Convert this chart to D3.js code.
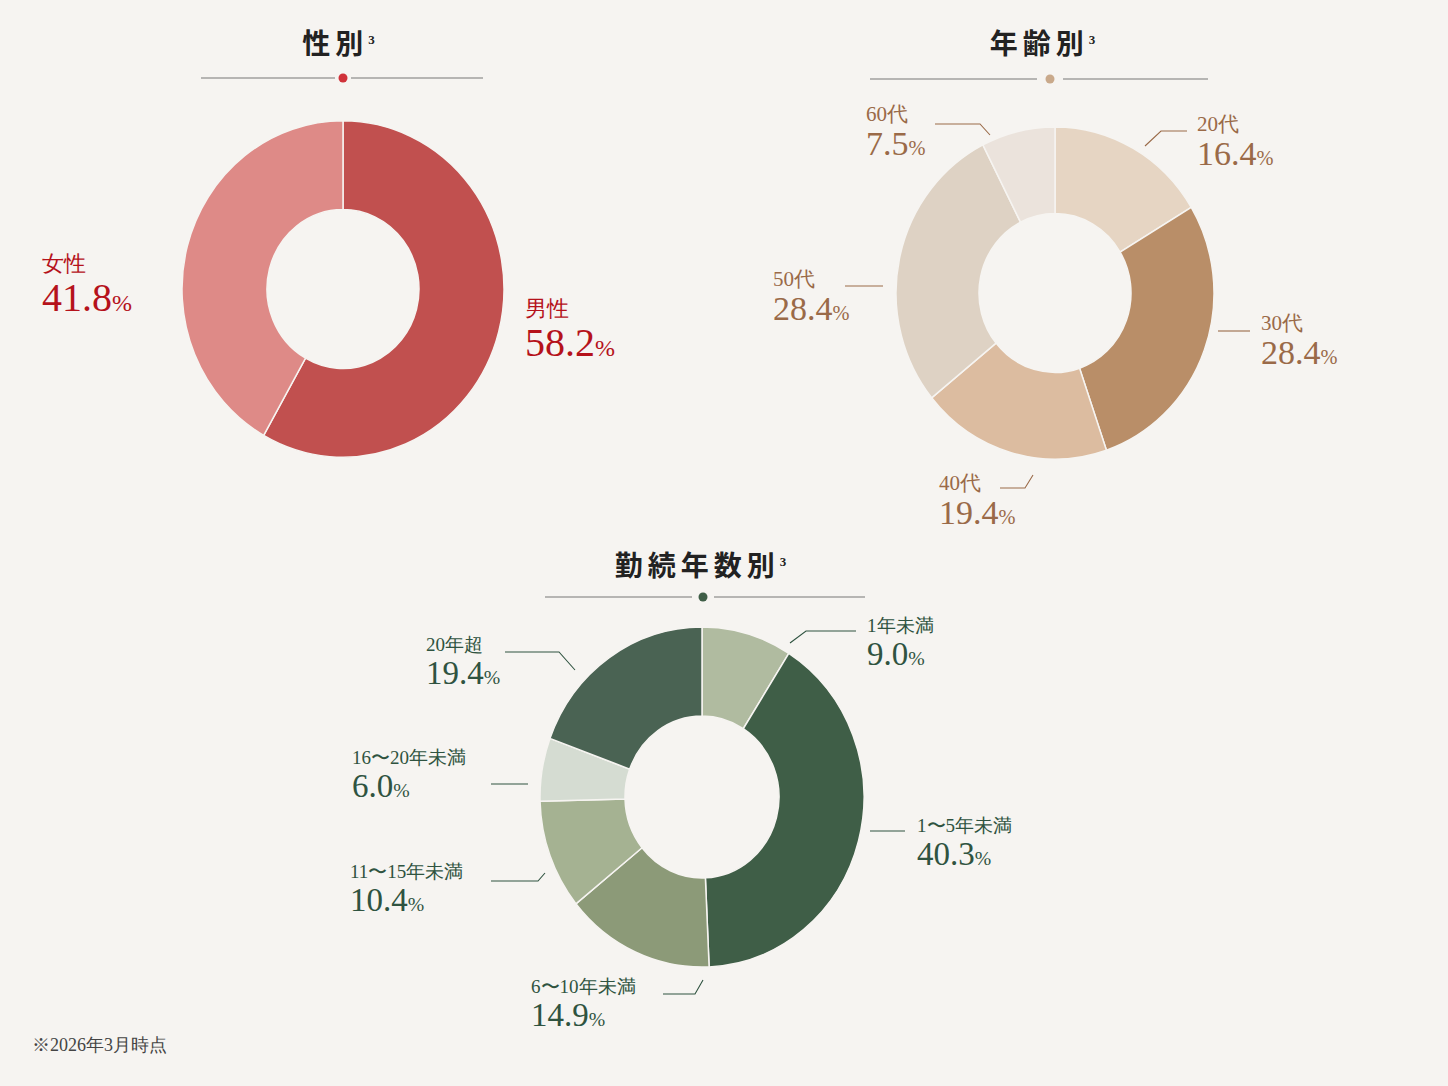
<!DOCTYPE html><html><head><meta charset="utf-8">
<script src="https://cdn.jsdelivr.net/npm/d3@7"></script>
<style>body{margin:0;background:#f6f4f1}</style></head><body>
<script>
const genderCats=["男性","女性"], genderVals=[58.2,41.8];
const ageCats=["20代","30代","40代","50代","60代"], ageVals=[16.4,28.4,19.4,28.4,7.5];
const tenureCats=["1年未満","1〜5年未満","6〜10年未満","11〜15年未満","16〜20年未満","20年超"], tenureVals=[9.0,40.3,14.9,10.4,6.0,19.4];

const W=1448,H=1086;
const svg=d3.select("body").append("svg").attr("width",W).attr("height",H);
svg.append("rect").attr("width",W).attr("height",H).attr("fill","#f6f4f1");
const serif="'Liberation Serif','DejaVu Serif',serif", jp="'Noto Sans CJK JP',sans-serif";

function title(txt,x,y,l1,l2,r1,r2,ly,dot){
  const t=svg.append("text").attr("x",x).attr("y",y).attr("text-anchor","middle").attr("font-family",jp).attr("font-weight",700).attr("font-size",28).attr("letter-spacing",5).attr("fill","#222").text(txt);
  t.append("tspan").attr("font-size",13).attr("dy",-10).attr("font-family",serif).text("3");
  svg.append("line").attr("x1",l1).attr("x2",l2).attr("y1",ly).attr("y2",ly).attr("stroke","#777").attr("stroke-width",1.2);
  svg.append("line").attr("x1",r1).attr("x2",r2).attr("y1",ly).attr("y2",ly).attr("stroke","#777").attr("stroke-width",1.2);
  svg.append("circle").attr("cx",(l2+r1)/2).attr("cy",ly).attr("r",4.5).attr("fill",dot);
}
function donut(vals,colors,cx,cy,ro,ri,sy){
  const g=svg.append("g").attr("transform",`translate(${cx},${cy}) scale(1,${sy})`);
  const pie=d3.pie().sort(null)(vals);
  const arc=d3.arc().innerRadius(ri).outerRadius(ro);
  g.selectAll("path").data(pie).join("path").attr("d",arc).attr("fill",(d,i)=>colors[i]).attr("stroke","#f6f4f1").attr("stroke-width",1.5);
}
function label(cat,val,x,y,col,anchor,catSize,numSize){
  const t1=svg.append("text").attr("x",x).attr("y",y).attr("text-anchor",anchor||"start").attr("font-family",serif).attr("font-size",catSize||20).attr("fill",col).text(cat);
  const t=svg.append("text").attr("x",x).attr("y",y+ (numSize||38)*1.0).attr("text-anchor",anchor||"start").attr("font-family",serif).attr("font-size",numSize||36).attr("fill",col).text(val.toFixed(1));
  t.append("tspan").attr("font-size",(numSize||36)*0.6).text("%");
}
function leader(pts,col){svg.append("path").attr("d",d3.line()(pts)).attr("fill","none").attr("stroke",col).attr("stroke-width",1.1);}

// gender
title("性別",341,54,201,335,351,483,78,"#d0323a");
donut(genderVals,["#c1504f","#de8a87"],343,289,161,76,1.045);
const red="#b5121b";
label(genderCats[0],genderVals[0],525,316,red,"start",22,40);
label(genderCats[1],genderVals[1],42,271,red,"start",22,40);
// age
title("年齢別",1045,54,870,1037,1063,1208,79,"#c9a98b");
donut(ageVals,["#e6d5c3","#b98e68","#dcbca0","#ded2c4","#ebe3dc"],1055,293,159,76,1.045);
const br="#9a6a48";
label(ageCats[0],ageVals[0],1197,131,br,"start",21,34);
label(ageCats[1],ageVals[1],1261,330,br,"start",21,34);
label(ageCats[2],ageVals[2],939,490,br,"start",21,34);
label(ageCats[3],ageVals[3],773,286,br,"start",21,34);
label(ageCats[4],ageVals[4],866,121,br,"start",21,34);
leader([[1187,131],[1161,131],[1145,146]],br);
leader([[1218,331],[1250,331]],br);
leader([[1000,488],[1025,488],[1033,475]],br);
leader([[845,286],[883,286]],br);
leader([[935,124],[980,124],[990,135]],br);
// tenure
title("勤続年数別",703,576,545,692,714,865,597,"#3f5e47");
donut(tenureVals,["#b0bba0","#3f5e47","#8c9a78","#a5b292","#d5dcd2","#4a6353"],702,797,162,77,1.05);
const gr="#2f5340";
label(tenureCats[0],tenureVals[0],867,632,gr,"start",19,33);
label(tenureCats[1],tenureVals[1],917,832,gr,"start",19,33);
label(tenureCats[2],tenureVals[2],531,993,gr,"start",19,33);
label(tenureCats[3],tenureVals[3],350,878,gr,"start",19,33);
label(tenureCats[4],tenureVals[4],352,764,gr,"start",19,33);
label(tenureCats[5],tenureVals[5],426,651,gr,"start",19,33);
leader([[856,631],[806,631],[790,643]],gr);
leader([[870,831],[905,831]],gr);
leader([[663,994],[695,994],[703,980]],gr);
leader([[491,881],[538,881],[545,873]],gr);
leader([[491,784],[528,784]],gr);
leader([[505,652],[559,652],[575,670]],gr);

svg.append("text").attr("x",32).attr("y",1051).attr("font-family",serif).attr("font-size",18).attr("fill","#444").text("※2026年3月時点");
</script></body></html>
